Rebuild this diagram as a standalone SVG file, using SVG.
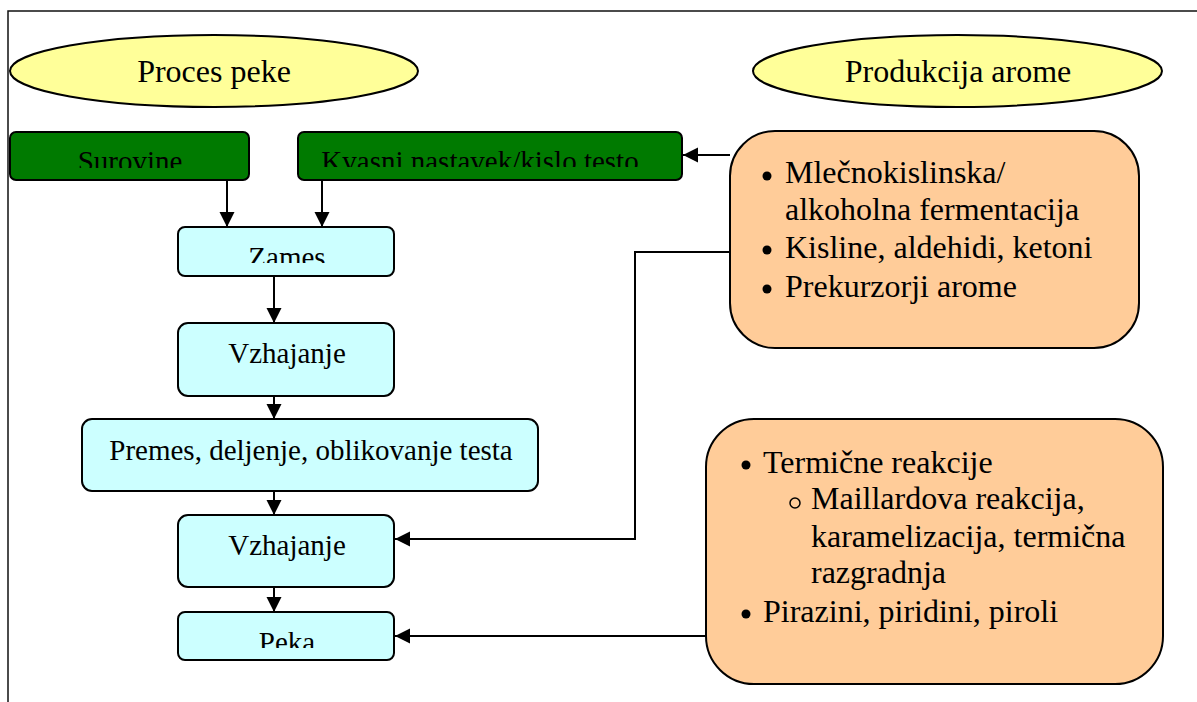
<svg xmlns="http://www.w3.org/2000/svg" width="1197" height="702" viewBox="0 0 1197 702">
<style>
text{font-family:"Liberation Serif","Times New Roman",serif;fill:#000}
.green{fill:#007A00;stroke:#000;stroke-width:2}
.cyan{fill:#CCFFFF;stroke:#000;stroke-width:2}
.yellow{fill:#FFFF99;stroke:#000;stroke-width:2}
.orange{fill:#FFCC99;stroke:#000;stroke-width:2}
.conn{fill:none;stroke:#000;stroke-width:2}
.dot{fill:#000}
.ring{fill:none;stroke:#000;stroke-width:1.5}
.t32{font-size:32px}
.t29{font-size:29px}
</style>
<defs>
<marker id="ah" markerWidth="16" markerHeight="16" refX="15" refY="7.5" orient="auto" markerUnits="userSpaceOnUse">
<path d="M0,0 L15,7.5 L0,15 Z" fill="#000"/>
</marker>
<clipPath id="cSur"><rect x="10" y="132" width="239" height="36"/></clipPath>
<clipPath id="cKva"><rect x="298" y="132" width="384" height="35"/></clipPath>
<clipPath id="cZam"><rect x="178" y="227" width="216" height="36"/></clipPath>
<clipPath id="cPek"><rect x="178" y="612" width="216" height="36"/></clipPath>
</defs>
<rect width="1197" height="702" fill="#fff"/>
<path d="M8,702 L8,11 L1197,11" fill="none" stroke="#111" stroke-width="1.5"/>

<g id="proces-peke">
<ellipse class="yellow" cx="214" cy="71" rx="204" ry="36"/>
<text class="t32" x="214" y="82" text-anchor="middle">Proces peke</text>
</g>
<g id="produkcija-arome">
<ellipse class="yellow" cx="957.5" cy="71" rx="204.5" ry="36"/>
<text class="t32" x="958" y="82" text-anchor="middle">Produkcija arome</text>
</g>

<g id="surovine">
<rect class="green" x="10" y="132" width="239" height="48" rx="6"/>
<text class="t29" x="130" y="171" text-anchor="middle" clip-path="url(#cSur)">Surovine</text>
</g>
<g id="kvasni">
<rect class="green" x="298" y="132" width="384" height="48" rx="6"/>
<text class="t29" x="480" y="171" text-anchor="middle" clip-path="url(#cKva)">Kvasni nastavek/kislo testo</text>
</g>

<g id="zames">
<rect class="cyan" x="178" y="227" width="216" height="49" rx="7"/>
<text class="t29" x="287" y="267" text-anchor="middle" clip-path="url(#cZam)">Zames</text>
</g>
<g id="vzhajanje1">
<rect class="cyan" x="178" y="323" width="216" height="73" rx="10"/>
<text class="t29" x="287" y="363" text-anchor="middle">Vzhajanje</text>
</g>
<g id="premes">
<rect class="cyan" x="82" y="419" width="456" height="72" rx="10"/>
<text class="t29" x="311" y="460" text-anchor="middle">Premes, deljenje, oblikovanje testa</text>
</g>
<g id="vzhajanje2">
<rect class="cyan" x="178" y="515" width="216" height="72" rx="10"/>
<text class="t29" x="287" y="555" text-anchor="middle">Vzhajanje</text>
</g>
<g id="peka">
<rect class="cyan" x="178" y="612" width="216" height="48" rx="7"/>
<text class="t29" x="287" y="652" text-anchor="middle" clip-path="url(#cPek)">Peka</text>
</g>

<g id="aroma-fermentacija">
<rect class="orange" x="730" y="131" width="409" height="217" rx="45"/>
<circle class="dot" cx="767" cy="176" r="4.5"/>
<text class="t32" x="785" y="183">Mlečnokislinska/</text>
<text class="t32" x="785" y="220">alkoholna fermentacija</text>
<circle class="dot" cx="767" cy="250" r="4.5"/>
<text class="t32" x="785" y="258">Kisline, aldehidi, ketoni</text>
<circle class="dot" cx="767" cy="289" r="4.5"/>
<text class="t32" x="785" y="297">Prekurzorji arome</text>
</g>
<g id="aroma-termicne">
<rect class="orange" x="706" y="419" width="457" height="265" rx="48"/>
<circle class="dot" cx="746" cy="465" r="4.5"/>
<text class="t32" x="763" y="473">Termične reakcije</text>
<circle class="ring" cx="795" cy="503" r="5"/>
<text class="t32" x="811" y="509">Maillardova reakcija,</text>
<text class="t32" x="811" y="547">karamelizacija, termična</text>
<text class="t32" x="811" y="583">razgradnja</text>
<circle class="dot" cx="746" cy="614" r="4.5"/>
<text class="t32" x="763" y="622">Pirazini, piridini, piroli</text>
</g>

<g id="connectors">
<path class="conn" d="M227,180 L227,227" marker-end="url(#ah)"/>
<path class="conn" d="M322,180 L322,227" marker-end="url(#ah)"/>
<path class="conn" d="M274,276 L274,323" marker-end="url(#ah)"/>
<path class="conn" d="M274,396 L274,419" marker-end="url(#ah)"/>
<path class="conn" d="M274,491 L274,515" marker-end="url(#ah)"/>
<path class="conn" d="M274,587 L274,612" marker-end="url(#ah)"/>
<path class="conn" d="M730,155 L683,155" marker-end="url(#ah)"/>
<path class="conn" d="M730,252 L635,252 L635,539 L395,539" marker-end="url(#ah)"/>
<path class="conn" d="M706,636 L395,636" marker-end="url(#ah)"/>
</g>
</svg>
